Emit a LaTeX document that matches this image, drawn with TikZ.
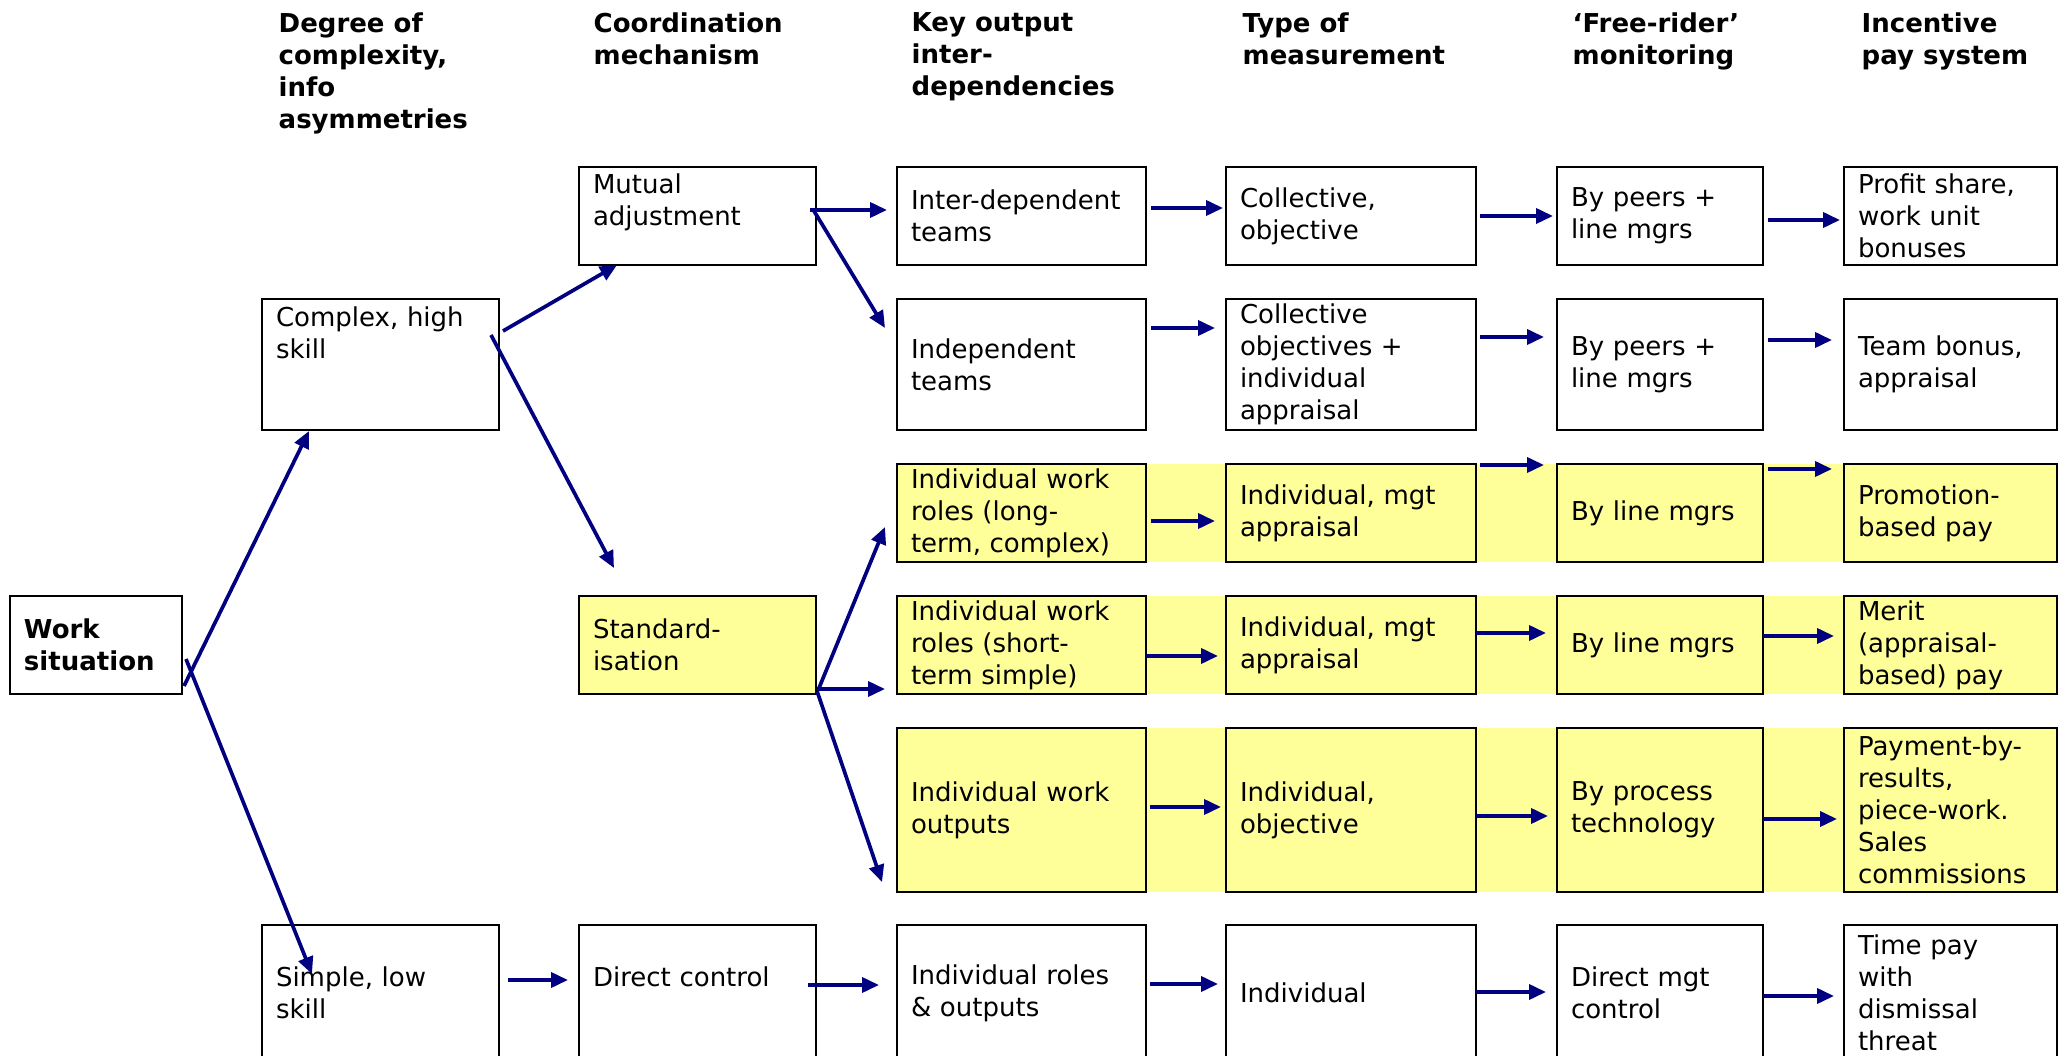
\documentclass[tikz,border=0pt]{standalone}
\usepackage{fontspec}
\setmainfont{DejaVu Sans}
\usetikzlibrary{arrows.meta,calc}
\definecolor{boxyellow}{HTML}{FFFF99}
\definecolor{arrnavy}{HTML}{000080}
\newcommand\bodyfont{\fontsize{7.4pt}{9.1pt}\selectfont\exhyphenpenalty=10000\hyphenpenalty=10000}
\newcommand\mkbox[7]{%
  \pgfmathsetmacro\mybw{(#4-#2)*0.1}%
  \pgfmathsetmacro\mybh{(#5-#3)*0.1}%
  \pgfmathsetmacro\mytw{(#4-#2-28)*0.1}%
  \node[boxst,fill=#6,minimum width=\mybw mm,minimum height=\mybh mm,text width=\mytw mm] (#1) at (#2,#3) {#7};%
}
\begin{document}
\begin{tikzpicture}[x=0.1mm,y=-0.1mm,
  boxst/.style={draw=black,line width=0.75pt,anchor=north west,outer sep=0pt,
    inner xsep=1.4mm,inner ysep=0pt,align=left,font=\bodyfont},
  hdr/.style={anchor=north west,inner sep=0pt,align=left,font=\bodyfont\bfseries},
  arr/.style={draw=arrnavy,line width=1.05pt,-{Triangle[length=1.7mm,width=1.5mm]}}]
\useasboundingbox (0,0) rectangle (2067,1056);
\fill[white] (0,0) rectangle (2067,1056);
\clip (0,0) rectangle (2067,1056);

% headers
\node[hdr] (h1) at (278,12) {Degree of\\complexity,\\info\\asymmetries};
\node[hdr] (h2) at (593,12) {Coordination\\mechanism};
\node[hdr] (h3) at (911,12) {Key output\\inter-\\dependencies};
\node[hdr] (h4) at (1242,12) {Type of\\measurement};
\node[hdr] (h5) at (1572,12) {‘Free-rider’\\monitoring};
\node[hdr] (h6) at (1861,12) {Incentive\\pay system};

% yellow bands
\fill[boxyellow] (897,464) rectangle (2057,562);
\fill[boxyellow] (897,596) rectangle (2057,694);
\fill[boxyellow] (897,728) rectangle (2057,892);

% boxes
\mkbox{ws}{10}{596}{182}{694}{white}{\bfseries Work\\situation}
\mkbox{c1a}{262}{299}{499}{430}{white}{Complex, high\\skill\\~\\~}
\mkbox{c1b}{262}{925}{499}{1061}{white}{Simple, low\\skill}
\mkbox{c2a}{579}{167}{816}{265}{white}{Mutual\\adjustment\\~}
\mkbox{c2b}{579}{596}{816}{694}{boxyellow}{Standard-\\isation}
\mkbox{c2c}{579}{925}{816}{1061}{white}{Direct control\\~}

\mkbox{c3a}{897}{167}{1146}{265}{white}{Inter-dependent\\teams}
\mkbox{c3b}{897}{299}{1146}{430}{white}{Independent\\teams}
\mkbox{c3c}{897}{464}{1146}{562}{boxyellow}{Individual work\\roles (long-\\term, complex)}
\mkbox{c3d}{897}{596}{1146}{694}{boxyellow}{Individual work\\roles (short-\\term simple)}
\mkbox{c3e}{897}{728}{1146}{892}{boxyellow}{Individual work\\outputs}
\mkbox{c3f}{897}{925}{1146}{1061}{white}{Individual roles\\\& outputs}

\mkbox{c4a}{1226}{167}{1476}{265}{white}{Collective,\\objective}
\mkbox{c4b}{1226}{299}{1476}{430}{white}{Collective\\objectives +\\individual\\appraisal}
\mkbox{c4c}{1226}{464}{1476}{562}{boxyellow}{Individual, mgt\\appraisal}
\mkbox{c4d}{1226}{596}{1476}{694}{boxyellow}{Individual, mgt\\appraisal}
\mkbox{c4e}{1226}{728}{1476}{892}{boxyellow}{Individual,\\objective}
\mkbox{c4f}{1226}{925}{1476}{1061}{white}{Individual}

\mkbox{c5a}{1557}{167}{1763}{265}{white}{By peers +\\line mgrs}
\mkbox{c5b}{1557}{299}{1763}{430}{white}{By peers +\\line mgrs}
\mkbox{c5c}{1557}{464}{1763}{562}{boxyellow}{By line mgrs}
\mkbox{c5d}{1557}{596}{1763}{694}{boxyellow}{By line mgrs}
\mkbox{c5e}{1557}{728}{1763}{892}{boxyellow}{By process\\technology}
\mkbox{c5f}{1557}{925}{1763}{1061}{white}{Direct mgt\\control}

\mkbox{c6a}{1844}{167}{2057}{265}{white}{Profit share,\\work unit\\bonuses}
\mkbox{c6b}{1844}{299}{2057}{430}{white}{Team bonus,\\appraisal}
\mkbox{c6c}{1844}{464}{2057}{562}{boxyellow}{Promotion-\\based pay}
\mkbox{c6d}{1844}{596}{2057}{694}{boxyellow}{Merit\\(appraisal-\\based) pay}
\mkbox{c6e}{1844}{728}{2057}{892}{boxyellow}{Payment-by-\\results,\\piece-work.\\Sales\\commissions}
\mkbox{c6f}{1844}{925}{2057}{1061}{white}{Time pay\\with\\dismissal\\threat}

% tree arrows
\draw[arr] ($(ws.south east)+(2,-8)$) -- ($(c1a.south west)+(47,1)$);
\draw[arr] ($(ws.south east)+(4,-35)$) -- ($(c1b.north west)+(50,49)$);
\draw[arr] ($(c1a.north east)+(4,32)$) -- ($(c2a.south west)+(38,0)$);
\draw[arr] ($(c1a.north east)+(-8,36)$) -- ($(c2b.north west)+(35,-28)$);
\draw[arr] ($(c2a.north east)+(-6,43)$) -- ($(c3a.north west)+(-10,43)$);
\draw[arr] ($(c2a.north east)+(-2,44)$) -- ($(c3b.north west)+(-12,29)$);
\draw[arr] ($(c2b.south east)+(3,-6)$) -- ($(c3c.south west)+(-12,-35)$);
\draw[arr] ($(c2b.south east)+(1,-5)$) -- ($(c3d.south west)+(-12,-5)$);
\draw[arr] ($(c2b.south east)+(1,-3)$) -- ($(c3e.south west)+(-15,-10)$);
\draw[arr] ($(c1b.north east)+(9,55)$) -- ($(c2c.north west)+(-11,55)$);
\draw[arr] ($(c2c.north east)+(-8,60)$) -- ($(c3f.north west)+(-18,60)$);

% row arrows
\draw[arr] ($(c3a.north east)+(5,41)$) -- ($(c4a.north west)+(-3,41)$);
\draw[arr] ($(c4a.north east)+(4,49)$) -- ($(c5a.north west)+(-4,49)$);
\draw[arr] ($(c5a.north east)+(5,53)$) -- ($(c6a.north west)+(-4,53)$);

\draw[arr] ($(c3b.north east)+(5,29)$) -- ($(c4b.north west)+(-11,29)$);
\draw[arr] ($(c4b.north east)+(4,38)$) -- ($(c5b.north west)+(-13,38)$);
\draw[arr] ($(c5b.north east)+(5,41)$) -- ($(c6b.north west)+(-12,41)$);

\draw[arr] ($(c3c.north east)+(5,57)$) -- ($(c4c.north west)+(-11,57)$);
\draw[arr] ($(c4c.north east)+(4,1)$) -- ($(c5c.north west)+(-13,1)$);
\draw[arr] ($(c5c.north east)+(5,5)$) -- ($(c6c.north west)+(-12,5)$);

\draw[arr] ($(c3d.north east)+(0,60)$) -- ($(c4d.north west)+(-8,60)$);
\draw[arr] ($(c4d.north east)+(0,37)$) -- ($(c5d.north west)+(-11,37)$);
\draw[arr] ($(c5d.north east)+(0,40)$) -- ($(c6d.north west)+(-10,40)$);

\draw[arr] ($(c3e.north east)+(4,79)$) -- ($(c4e.north west)+(-5,79)$);
\draw[arr] ($(c4e.north east)+(0,88)$) -- ($(c5e.north west)+(-9,88)$);
\draw[arr] ($(c5e.north east)+(0,91)$) -- ($(c6e.north west)+(-7,91)$);

\draw[arr] ($(c3f.north east)+(4,59)$) -- ($(c4f.north west)+(-8,59)$);
\draw[arr] ($(c4f.north east)+(0,67)$) -- ($(c5f.north west)+(-11,67)$);
\draw[arr] ($(c5f.north east)+(0,71)$) -- ($(c6f.north west)+(-10,71)$);
\end{tikzpicture}
\end{document}
